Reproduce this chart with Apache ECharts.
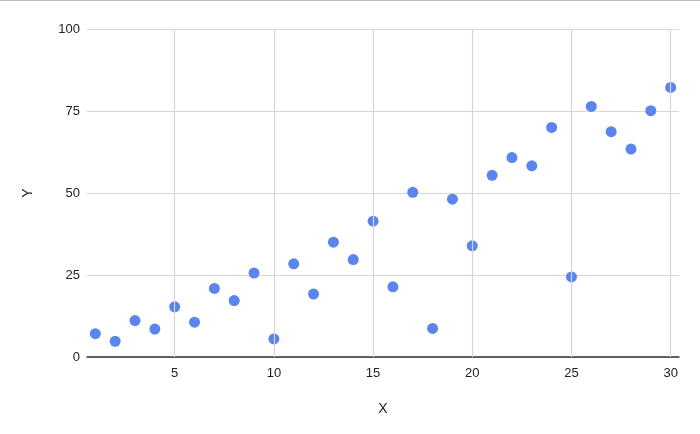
<!DOCTYPE html>
<html>
<head>
<meta charset="utf-8">
<script src="https://cdn.jsdelivr.net/npm/echarts@6/dist/echarts.min.js"></script>
<style>
  html, body { margin: 0; padding: 0; background: #fff; }
  #chart { width: 700px; height: 434px; }
</style>
</head>
<body>
<div id="chart"></div>
<script>
  var xData = [1, 2, 3, 4, 5, 6, 7, 8, 9, 10, 11, 12, 13, 14, 15,
    16, 17, 18, 19, 20, 21, 22, 23, 24, 25, 26, 27, 28, 29, 30]
  var yData = [7.1, 4.8, 11.1, 8.5, 15.3, 10.6, 20.9, 17.2, 25.6, 5.5, 28.4, 19.2, 35.0, 29.7, 41.4,
    21.4, 50.2, 8.7, 48.1, 33.9, 55.4, 60.8, 58.3, 70.0, 24.4, 76.4, 68.7, 63.4, 75.1, 82.2]
  var xTicks = [5, 10, 15, 20, 25, 30]
  var yTicks = [0, 25, 50, 75, 100]

  var points = xData.map(function (x, i) { return [x, yData[i]] })

  var chart = echarts.init(document.getElementById('chart'))
  chart.setOption({
    animation: false,
    textStyle: { fontFamily: 'Arial, "Liberation Sans", sans-serif' },
    graphic: [{
      // thin border line at the very top
      type: 'rect',
      shape: { x: 0, y: 0, width: 700, height: 1 },
      style: { fill: '#bdbdbd' }
    }],
    grid: {
      left: 87,
      right: 21,
      top: 29,
      bottom: 77
    },
    xAxis: {
      type: 'value',
      min: 0.58,
      max: 30.42,
      name: 'X',
      nameLocation: 'middle',
      nameGap: 45,
      nameTextStyle: { color: '#222', fontSize: 14 },
      axisLine: { show: true, onZero: false, lineStyle: { color: '#333', width: 1.5 } },
      axisTick: { show: false },
      axisLabel: {
        color: '#222',
        fontSize: 13,
        margin: 10,
        customValues: xTicks
      },
      splitLine: { show: false }
    },
    yAxis: {
      type: 'value',
      min: 0,
      max: 100,
      interval: 25,
      name: 'Y',
      nameLocation: 'middle',
      nameGap: 52,
      nameTextStyle: { color: '#222', fontSize: 14 },
      axisLine: { show: false },
      axisTick: { show: false },
      axisLabel: {
        color: '#222',
        fontSize: 13,
        margin: 7,
        customValues: yTicks
      },
      splitLine: { show: true, lineStyle: { color: '#d6d6d6', width: 1 } }
    },
    series: [{
      // vertical grid lines at the labelled x ticks
      type: 'line',
      data: [],
      markLine: {
        silent: true,
        symbol: 'none',
        label: { show: false },
        lineStyle: { color: '#d6d6d6', type: 'solid', width: 1.2 },
        data: xTicks.map(function (v) { return { xAxis: v } })
      }
    }, {
      type: 'scatter',
      symbol: 'circle',
      symbolSize: 11,
      itemStyle: { color: '#5b85ec', opacity: 1 },
      data: points
    }]
  })
</script>
</body>
</html>
